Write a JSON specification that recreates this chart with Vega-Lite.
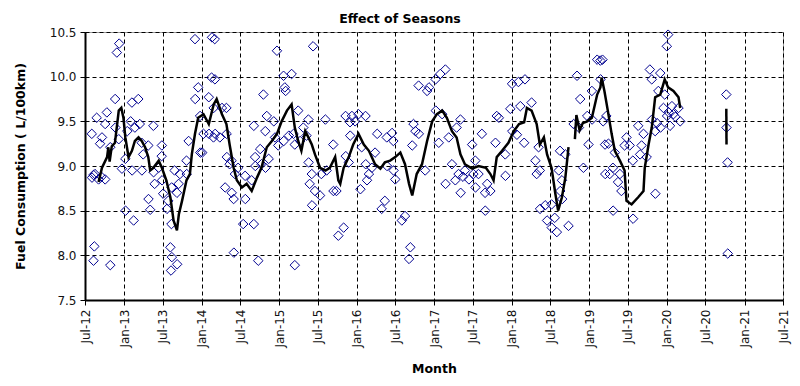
{
  "$schema": "https://vega.github.io/schema/vega-lite/v6.json",
  "width": 698,
  "height": 268,
  "autosize": {"type": "none"},
  "padding": {"left": 85, "top": 32, "right": 17, "bottom": 86},
  "background": "white",
  "title": {"text": "Effect of Seasons", "font": "DejaVu Sans", "fontSize": 12.5, "fontWeight": "bold", "color": "#000000", "anchor": "middle", "dx": -34, "dy": 6, "offset": 7},
  "datasets": {
    "pts": [
      {"d":"2012-12-09","v":10.37},{"d":"2012-11-28","v":10.27},{"d":"2013-12-01","v":10.42},{"d":"2014-02-19","v":10.44},
      {"d":"2014-02-17","v":9.99},{"d":"2013-12-16","v":9.88},{"d":"2013-12-02","v":9.75},{"d":"2014-02-04","v":9.77},
      {"d":"2014-02-27","v":9.65},{"d":"2013-12-25","v":9.56},{"d":"2014-01-10","v":9.36},{"d":"2014-01-04","v":9.15},
      {"d":"2014-02-05","v":9.36},{"d":"2014-02-26","v":9.32},{"d":"2012-11-20","v":9.75},{"d":"2013-02-07","v":9.71},
      {"d":"2013-03-09","v":9.75},{"d":"2012-08-25","v":9.54},{"d":"2012-10-12","v":9.60},{"d":"2012-08-02","v":9.36},
      {"d":"2012-10-04","v":9.47},{"d":"2012-11-21","v":9.43},{"d":"2012-09-19","v":9.32},{"d":"2012-12-07","v":9.30},
      {"d":"2012-09-10","v":9.25},{"d":"2012-10-28","v":9.21},{"d":"2013-02-01","v":9.50},{"d":"2013-02-21","v":9.43},
      {"d":"2013-03-16","v":9.47},{"d":"2013-05-19","v":9.45},{"d":"2013-03-25","v":9.26},{"d":"2013-04-25","v":9.23},
      {"d":"2013-01-16","v":9.39},{"d":"2013-01-07","v":9.08},{"d":"2012-12-22","v":8.97},{"d":"2013-02-08","v":8.95},
      {"d":"2013-03-26","v":8.95},{"d":"2013-04-01","v":9.13},{"d":"2013-06-28","v":9.23},{"d":"2013-06-27","v":9.11},
      {"d":"2013-06-13","v":8.98},{"d":"2013-05-20","v":8.93},{"d":"2013-06-29","v":8.84},{"d":"2013-05-25","v":8.80},
      {"d":"2013-07-04","v":8.69},{"d":"2013-04-26","v":8.63},{"d":"2013-05-04","v":8.51},{"d":"2013-01-08","v":8.50},
      {"d":"2013-02-15","v":8.39},{"d":"2012-08-17","v":8.91},{"d":"2012-08-03","v":8.87},{"d":"2012-09-03","v":8.85},
      {"d":"2012-10-04","v":8.85},{"d":"2013-08-27","v":8.95},{"d":"2013-09-21","v":8.91},{"d":"2013-09-15","v":8.80},
      {"d":"2013-08-13","v":8.76},{"d":"2013-09-07","v":8.70},{"d":"2013-07-22","v":8.52},{"d":"2013-08-12","v":8.35},
      {"d":"2013-07-28","v":8.61},{"d":"2013-08-07","v":8.09},{"d":"2013-08-14","v":7.98},{"d":"2013-09-08","v":7.90},
      {"d":"2013-08-10","v":7.83},{"d":"2012-08-14","v":8.10},{"d":"2012-08-10","v":7.94},{"d":"2012-10-28","v":7.89},
      {"d":"2013-11-01","v":9.28},{"d":"2013-10-22","v":9.06},{"d":"2013-12-26","v":9.15},{"d":"2013-10-23","v":8.91},
      {"d":"2012-08-10","v":8.90},{"d":"2012-09-16","v":8.88},
      {"d":"2014-03-04","v":10.42},{"d":"2014-12-22","v":10.29},{"d":"2015-06-10","v":10.34},{"d":"2015-01-22","v":10.01},
      {"d":"2015-03-01","v":10.03},{"d":"2014-03-05","v":9.97},{"d":"2015-02-01","v":9.84},{"d":"2015-01-28","v":9.88},
      {"d":"2014-10-19","v":9.80},{"d":"2014-04-07","v":9.65},{"d":"2014-04-28","v":9.65},{"d":"2014-11-04","v":9.56},
      {"d":"2014-09-04","v":9.45},{"d":"2014-10-28","v":9.39},{"d":"2014-12-07","v":9.50},{"d":"2015-04-01","v":9.62},
      {"d":"2015-05-19","v":9.52},{"d":"2015-08-07","v":9.52},{"d":"2015-04-25","v":9.43},{"d":"2014-03-06","v":9.36},
      {"d":"2014-03-28","v":9.32},{"d":"2014-04-29","v":9.36},{"d":"2014-12-13","v":9.32},{"d":"2015-01-23","v":9.28},
      {"d":"2015-02-16","v":9.34},{"d":"2015-03-10","v":9.36},{"d":"2015-03-16","v":9.24},{"d":"2015-04-10","v":9.28},
      {"d":"2015-05-10","v":9.34},{"d":"2014-10-04","v":9.19},{"d":"2014-09-10","v":9.10},{"d":"2014-11-13","v":9.08},
      {"d":"2014-12-28","v":9.23},{"d":"2014-10-29","v":8.98},{"d":"2014-04-30","v":9.10},{"d":"2014-05-22","v":9.06},
      {"d":"2014-06-22","v":8.98},{"d":"2014-07-25","v":8.89},{"d":"2014-06-07","v":8.91},{"d":"2014-05-13","v":9.02},
      {"d":"2014-04-22","v":8.76},{"d":"2014-05-23","v":8.70},{"d":"2014-07-26","v":8.63},{"d":"2014-06-01","v":8.63},
      {"d":"2014-08-25","v":8.84},{"d":"2014-09-11","v":9.00},{"d":"2014-10-10","v":9.02},{"d":"2015-05-20","v":9.04},
      {"d":"2015-06-04","v":8.91},{"d":"2015-07-19","v":8.91},{"d":"2015-05-25","v":8.80},{"d":"2015-06-19","v":8.72},
      {"d":"2015-07-13","v":8.67},{"d":"2015-06-05","v":8.56},{"d":"2015-08-13","v":8.95},{"d":"2015-09-13","v":9.24},
      {"d":"2015-09-14","v":8.72},{"d":"2015-09-28","v":8.72},{"d":"2014-07-16","v":8.35},{"d":"2014-09-04","v":8.35},
      {"d":"2014-06-02","v":8.03},{"d":"2014-09-25","v":7.94},{"d":"2015-03-16","v":7.89},{"d":"2015-10-07","v":8.22},
      {"d":"2015-11-01","v":8.31},
      {"d":"2017-02-22","v":10.08},{"d":"2017-01-29","v":10.03},{"d":"2017-01-07","v":9.97},{"d":"2016-12-07","v":9.88},
      {"d":"2016-10-19","v":9.90},{"d":"2016-11-28","v":9.84},{"d":"2015-11-10","v":9.56},{"d":"2015-12-10","v":9.56},
      {"d":"2016-01-10","v":9.58},{"d":"2016-02-12","v":9.56},{"d":"2015-12-01","v":9.49},{"d":"2015-12-25","v":9.50},
      {"d":"2017-01-08","v":9.62},{"d":"2017-02-07","v":9.58},{"d":"2017-05-04","v":9.52},{"d":"2017-04-16","v":9.43},
      {"d":"2016-04-07","v":9.36},{"d":"2016-05-22","v":9.32},{"d":"2016-06-16","v":9.37},{"d":"2016-06-22","v":9.28},
      {"d":"2016-09-25","v":9.47},{"d":"2016-10-04","v":9.39},{"d":"2015-12-02","v":9.34},{"d":"2016-01-25","v":9.21},
      {"d":"2016-03-28","v":9.15},{"d":"2016-09-19","v":9.23},{"d":"2017-01-22","v":9.26},{"d":"2017-03-10","v":9.32},
      {"d":"2017-06-28","v":9.24},{"d":"2015-11-11","v":9.11},{"d":"2015-11-25","v":9.04},{"d":"2016-02-13","v":9.02},
      {"d":"2016-03-13","v":8.98},{"d":"2016-02-28","v":8.91},{"d":"2016-02-19","v":8.84},{"d":"2016-01-19","v":8.74},
      {"d":"2016-05-23","v":9.00},{"d":"2016-06-23","v":8.95},{"d":"2016-07-01","v":8.85},{"d":"2016-11-19","v":8.95},
      {"d":"2017-03-25","v":9.02},{"d":"2017-04-25","v":8.91},{"d":"2017-05-25","v":8.95},{"d":"2017-06-13","v":8.85},
      {"d":"2017-04-10","v":8.84},{"d":"2017-02-23","v":8.80},{"d":"2017-05-05","v":8.70},{"d":"2017-07-04","v":8.91},
      {"d":"2016-05-13","v":8.61},{"d":"2016-04-28","v":8.52},{"d":"2016-08-16","v":8.44},{"d":"2016-08-01","v":8.39},
      {"d":"2016-09-10","v":8.09},{"d":"2016-09-04","v":7.96},{"d":"2016-10-20","v":9.36},{"d":"2017-05-16","v":8.88},
      {"d":"2019-02-07","v":10.19},{"d":"2019-02-22","v":10.18},{"d":"2018-11-04","v":10.01},{"d":"2018-01-02","v":9.92},
      {"d":"2018-03-04","v":9.97},{"d":"2018-02-01","v":9.94},{"d":"2019-02-23","v":9.97},{"d":"2019-01-13","v":9.84},
      {"d":"2018-11-19","v":9.75},{"d":"2018-04-04","v":9.71},{"d":"2018-02-10","v":9.67},{"d":"2017-12-25","v":9.64},
      {"d":"2017-11-01","v":9.54},{"d":"2017-10-22","v":9.56},{"d":"2017-08-13","v":9.36},{"d":"2017-10-16","v":9.26},
      {"d":"2018-01-03","v":9.39},{"d":"2018-01-25","v":9.35},{"d":"2018-02-28","v":9.26},{"d":"2017-12-01","v":9.13},
      {"d":"2018-05-07","v":9.21},{"d":"2018-04-22","v":9.06},{"d":"2018-05-13","v":8.95},{"d":"2018-04-28","v":8.91},
      {"d":"2018-08-16","v":9.17},{"d":"2018-09-10","v":9.13},{"d":"2018-10-19","v":9.47},{"d":"2018-11-13","v":9.43},
      {"d":"2018-12-22","v":9.56},{"d":"2019-01-14","v":9.52},{"d":"2018-12-28","v":9.24},{"d":"2018-12-04","v":8.98},
      {"d":"2019-03-16","v":9.24},{"d":"2019-03-17","v":8.91},{"d":"2017-07-13","v":9.06},{"d":"2017-07-28","v":8.91},
      {"d":"2017-07-14","v":8.76},{"d":"2017-09-07","v":8.80},{"d":"2017-08-28","v":8.70},{"d":"2017-09-22","v":8.72},
      {"d":"2017-12-02","v":8.89},{"d":"2017-08-29","v":8.50},{"d":"2018-08-10","v":8.95},{"d":"2018-08-25","v":8.84},
      {"d":"2018-08-17","v":8.72},{"d":"2018-08-26","v":8.63},{"d":"2018-07-07","v":8.57},{"d":"2018-06-07","v":8.56},
      {"d":"2018-05-14","v":8.52},{"d":"2018-06-16","v":8.39},{"d":"2018-07-08","v":8.31},{"d":"2018-08-01","v":8.26},
      {"d":"2018-09-25","v":8.33},{"d":"2018-07-22","v":8.42},
      {"d":"2020-01-07","v":10.47},{"d":"2020-01-01","v":10.34},{"d":"2019-03-04","v":10.19},{"d":"2019-10-13","v":10.08},
      {"d":"2019-12-01","v":10.04},{"d":"2019-10-22","v":9.97},{"d":"2019-11-22","v":9.84},{"d":"2019-03-22","v":9.56},
      {"d":"2019-03-07","v":9.50},{"d":"2019-12-16","v":9.65},{"d":"2020-01-25","v":9.67},{"d":"2020-02-25","v":9.65},
      {"d":"2020-01-02","v":9.56},{"d":"2020-02-01","v":9.58},{"d":"2020-03-04","v":9.50},{"d":"2020-01-16","v":9.45},
      {"d":"2019-12-02","v":9.43},{"d":"2019-11-07","v":9.39},{"d":"2019-10-23","v":9.52},{"d":"2019-08-19","v":9.45},
      {"d":"2019-09-13","v":9.36},{"d":"2019-06-25","v":9.32},{"d":"2019-06-16","v":9.23},{"d":"2019-07-10","v":9.23},
      {"d":"2019-09-04","v":9.23},{"d":"2019-08-28","v":9.13},{"d":"2019-09-28","v":9.10},{"d":"2019-07-25","v":9.06},
      {"d":"2019-04-01","v":9.25},{"d":"2019-05-01","v":9.15},{"d":"2019-04-22","v":8.98},{"d":"2019-04-07","v":8.91},
      {"d":"2019-05-25","v":8.91},{"d":"2019-05-16","v":8.82},{"d":"2019-06-01","v":8.72},{"d":"2019-11-08","v":8.69},
      {"d":"2019-04-23","v":8.50},{"d":"2019-07-26","v":8.41},{"d":"2020-10-07","v":9.80},{"d":"2020-10-08","v":9.43},
      {"d":"2020-10-13","v":9.04},{"d":"2020-10-14","v":8.02},{"d":"2020-01-10","v":9.60},{"d":"2020-02-10","v":9.55},
      {"d":"2019-12-22","v":9.80},{"d":"2019-11-16","v":9.48}
    ],
    "ma": [
      {"g":1,"d":"2012-09-03","v":8.82},{"g":1,"d":"2012-09-19","v":8.98},{"g":1,"d":"2012-10-13","v":9.10},
      {"g":1,"d":"2012-10-19","v":9.21},{"g":1,"d":"2012-10-25","v":9.05},{"g":1,"d":"2012-11-04","v":9.22},
      {"g":1,"d":"2012-11-19","v":9.26},{"g":1,"d":"2012-12-07","v":9.62},{"g":1,"d":"2012-12-19","v":9.65},
      {"g":1,"d":"2012-12-29","v":9.54},{"g":1,"d":"2013-01-07","v":9.32},{"g":1,"d":"2013-01-22","v":9.10},
      {"g":1,"d":"2013-02-07","v":9.17},{"g":1,"d":"2013-02-21","v":9.28},{"g":1,"d":"2013-03-10","v":9.32},
      {"g":1,"d":"2013-03-25","v":9.28},{"g":1,"d":"2013-04-10","v":9.21},{"g":1,"d":"2013-04-25","v":9.10},
      {"g":1,"d":"2013-05-04","v":8.95},{"g":1,"d":"2013-05-19","v":8.98},{"g":1,"d":"2013-06-13","v":9.06},
      {"g":1,"d":"2013-06-28","v":8.98},{"g":1,"d":"2013-07-19","v":8.84},{"g":1,"d":"2013-08-07","v":8.65},
      {"g":1,"d":"2013-08-22","v":8.39},{"g":1,"d":"2013-09-07","v":8.28},{"g":1,"d":"2013-09-16","v":8.46},
      {"g":1,"d":"2013-10-01","v":8.61},{"g":1,"d":"2013-10-22","v":8.84},{"g":1,"d":"2013-11-07","v":8.91},
      {"g":1,"d":"2013-11-16","v":9.13},{"g":1,"d":"2013-12-01","v":9.36},{"g":1,"d":"2013-12-16","v":9.54},
      {"g":1,"d":"2014-01-10","v":9.58},{"g":1,"d":"2014-02-04","v":9.47},{"g":1,"d":"2014-02-27","v":9.69},
      {"g":1,"d":"2014-03-13","v":9.75},{"g":1,"d":"2014-04-07","v":9.58},{"g":1,"d":"2014-04-28","v":9.47},
      {"g":1,"d":"2014-05-13","v":9.24},{"g":1,"d":"2014-06-01","v":8.98},{"g":1,"d":"2014-06-16","v":8.84},
      {"g":1,"d":"2014-07-10","v":8.76},{"g":1,"d":"2014-08-01","v":8.80},{"g":1,"d":"2014-08-25","v":8.72},
      {"g":1,"d":"2014-09-19","v":8.87},{"g":1,"d":"2014-10-10","v":8.98},{"g":1,"d":"2014-11-04","v":9.21},
      {"g":1,"d":"2014-11-28","v":9.28},{"g":1,"d":"2014-12-22","v":9.36},{"g":1,"d":"2015-01-13","v":9.50},
      {"g":1,"d":"2015-02-07","v":9.62},{"g":1,"d":"2015-03-01","v":9.69},{"g":1,"d":"2015-03-16","v":9.43},
      {"g":1,"d":"2015-04-01","v":9.28},{"g":1,"d":"2015-04-16","v":9.17},{"g":1,"d":"2015-05-04","v":9.39},
      {"g":1,"d":"2015-05-19","v":9.32},{"g":1,"d":"2015-06-04","v":9.24},{"g":1,"d":"2015-06-19","v":9.13},
      {"g":1,"d":"2015-07-13","v":8.98},{"g":1,"d":"2015-08-07","v":8.95},{"g":1,"d":"2015-08-28","v":8.98},
      {"g":1,"d":"2015-09-22","v":9.10},{"g":1,"d":"2015-10-07","v":8.84},{"g":1,"d":"2015-10-16","v":8.80},
      {"g":1,"d":"2015-11-01","v":8.98},{"g":1,"d":"2015-11-25","v":9.10},{"g":1,"d":"2015-12-16","v":9.24},
      {"g":1,"d":"2016-01-10","v":9.36},{"g":1,"d":"2016-02-04","v":9.24},{"g":1,"d":"2016-02-28","v":9.17},
      {"g":1,"d":"2016-03-28","v":9.02},{"g":1,"d":"2016-04-22","v":8.97},{"g":1,"d":"2016-05-13","v":9.04},
      {"g":1,"d":"2016-06-07","v":9.06},{"g":1,"d":"2016-07-01","v":9.10},{"g":1,"d":"2016-07-25","v":9.15},
      {"g":1,"d":"2016-08-16","v":9.02},{"g":1,"d":"2016-09-04","v":8.80},{"g":1,"d":"2016-09-19","v":8.67},
      {"g":1,"d":"2016-10-10","v":8.91},{"g":1,"d":"2016-11-04","v":9.02},{"g":1,"d":"2016-11-28","v":9.28},
      {"g":1,"d":"2016-12-22","v":9.50},{"g":1,"d":"2017-01-13","v":9.58},{"g":1,"d":"2017-02-07","v":9.62},
      {"g":1,"d":"2017-03-01","v":9.54},{"g":1,"d":"2017-03-25","v":9.39},{"g":1,"d":"2017-04-16","v":9.32},
      {"g":1,"d":"2017-05-04","v":9.13},{"g":1,"d":"2017-05-25","v":9.02},{"g":1,"d":"2017-06-28","v":8.97},
      {"g":1,"d":"2017-07-28","v":9.00},{"g":1,"d":"2017-09-01","v":8.98},{"g":1,"d":"2017-09-22","v":8.91},
      {"g":1,"d":"2017-10-07","v":8.84},{"g":1,"d":"2017-10-22","v":9.10},{"g":1,"d":"2017-11-16","v":9.17},
      {"g":1,"d":"2017-12-16","v":9.26},{"g":1,"d":"2018-01-10","v":9.39},{"g":1,"d":"2018-02-04","v":9.47},
      {"g":1,"d":"2018-02-28","v":9.49},{"g":1,"d":"2018-03-13","v":9.65},{"g":1,"d":"2018-04-04","v":9.62},
      {"g":1,"d":"2018-04-28","v":9.47},{"g":1,"d":"2018-05-13","v":9.24},{"g":1,"d":"2018-06-01","v":9.32},
      {"g":1,"d":"2018-06-16","v":9.13},{"g":1,"d":"2018-07-07","v":8.98},{"g":1,"d":"2018-07-25","v":8.69},
      {"g":1,"d":"2018-08-07","v":8.50},{"g":1,"d":"2018-08-25","v":8.65},{"g":1,"d":"2018-09-10","v":8.87},
      {"g":1,"d":"2018-09-25","v":9.21},
      {"g":2,"d":"2018-10-25","v":9.30},{"g":2,"d":"2018-11-01","v":9.57},{"g":2,"d":"2018-11-16","v":9.40},
      {"g":2,"d":"2018-12-01","v":9.48},{"g":2,"d":"2018-12-22","v":9.50},{"g":2,"d":"2019-01-13","v":9.54},
      {"g":2,"d":"2019-02-07","v":9.80},{"g":2,"d":"2019-02-22","v":9.88},{"g":2,"d":"2019-02-28","v":9.99},
      {"g":2,"d":"2019-03-13","v":9.84},{"g":2,"d":"2019-03-29","v":9.62},{"g":2,"d":"2019-04-16","v":9.36},
      {"g":2,"d":"2019-05-01","v":9.17},{"g":2,"d":"2019-05-25","v":9.06},{"g":2,"d":"2019-06-16","v":8.95},
      {"g":2,"d":"2019-06-25","v":8.61},{"g":2,"d":"2019-07-19","v":8.57},{"g":2,"d":"2019-08-19","v":8.65},
      {"g":2,"d":"2019-09-13","v":8.72},{"g":2,"d":"2019-09-19","v":8.98},{"g":2,"d":"2019-10-07","v":9.24},
      {"g":2,"d":"2019-10-22","v":9.43},{"g":2,"d":"2019-11-07","v":9.77},{"g":2,"d":"2019-12-01","v":9.80},
      {"g":2,"d":"2019-12-22","v":9.97},{"g":2,"d":"2020-01-07","v":9.88},{"g":2,"d":"2020-02-01","v":9.84},
      {"g":2,"d":"2020-02-25","v":9.77},{"g":2,"d":"2020-03-04","v":9.65},
      {"g":3,"d":"2020-10-07","v":9.64},{"g":3,"d":"2020-10-08","v":9.24}
    ]
  },
  "encoding": {
    "x": {
      "field": "d", "type": "temporal", "title": "Month",
      "scale": {"domain": [{"year": 2012, "month": 7, "date": 1}, {"year": 2021, "month": 7, "date": 1}], "nice": false},
      "axis": {
        "values": [
          {"year": 2012, "month": 7, "date": 1}, {"year": 2013, "month": 1, "date": 1}, {"year": 2013, "month": 7, "date": 1},
          {"year": 2014, "month": 1, "date": 1}, {"year": 2014, "month": 7, "date": 1}, {"year": 2015, "month": 1, "date": 1},
          {"year": 2015, "month": 7, "date": 1}, {"year": 2016, "month": 1, "date": 1}, {"year": 2016, "month": 7, "date": 1},
          {"year": 2017, "month": 1, "date": 1}, {"year": 2017, "month": 7, "date": 1}, {"year": 2018, "month": 1, "date": 1},
          {"year": 2018, "month": 7, "date": 1}, {"year": 2019, "month": 1, "date": 1}, {"year": 2019, "month": 7, "date": 1},
          {"year": 2020, "month": 1, "date": 1}, {"year": 2020, "month": 7, "date": 1}, {"year": 2021, "month": 1, "date": 1},
          {"year": 2021, "month": 7, "date": 1}
        ],
        "format": "%b-%y", "labelAngle": -90, "labelPadding": 4, "titlePadding": 15, "labelOverlap": false, "labelFlush": false
      }
    },
    "y": {
      "field": "v", "type": "quantitative", "title": "Fuel Consumption ( L/100km)",
      "scale": {"domain": [7.5, 10.5], "nice": false, "zero": false},
      "axis": {"values": [7.5, 8, 8.5, 9, 9.5, 10, 10.5], "format": ".1f", "labelPadding": 4, "titlePadding": 22}
    }
  },
  "layer": [
    {
      "data": {"name": "pts"},
      "mark": {"type": "point", "shape": "diamond", "filled": false, "stroke": "#000090", "strokeWidth": 1, "size": 90, "opacity": 1}
    },
    {
      "data": {"name": "ma"},
      "mark": {"type": "line", "color": "#000000", "strokeWidth": 2.5, "strokeJoin": "miter"},
      "encoding": {"detail": {"field": "g", "type": "nominal"}}
    }
  ],
  "config": {
    "view": {"stroke": "#9a9a9a", "strokeWidth": 1},
    "axis": {
      "labelFont": "DejaVu Sans", "labelFontSize": 12, "labelColor": "#111111",
      "titleFont": "DejaVu Sans", "titleFontSize": 12.5, "titleFontWeight": "bold", "titleColor": "#000000",
      "domainColor": "#000000", "domainWidth": 2,
      "tickColor": "#000000", "tickSize": 5, "tickWidth": 1,
      "grid": true, "gridColor": "#000000", "gridDash": [4, 3], "gridWidth": 1, "gridOpacity": 1
    }
  }
}
